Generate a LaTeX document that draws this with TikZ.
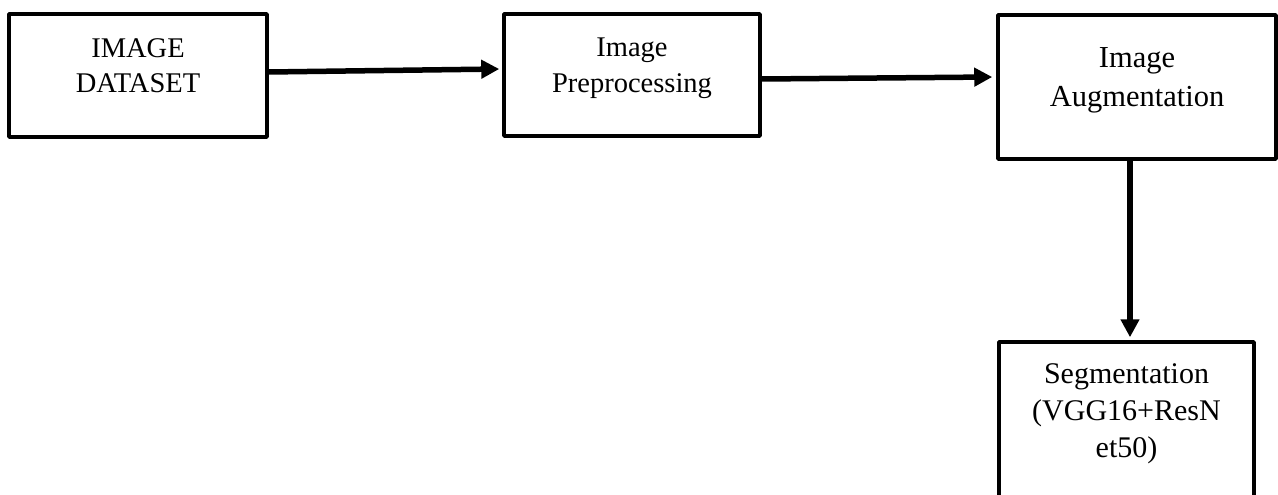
\documentclass[tikz,border=0pt]{standalone}
\usepackage{fontspec}
\setmainfont{Liberation Serif}
\usetikzlibrary{arrows.meta,calc}
\tikzset{
  procbox/.style={draw=black, line width=3.5pt, line join=round, rectangle, align=center, inner sep=0pt},
  smalltext/.style={font=\fontsize{28.5}{35.5}\selectfont},
  bigtext/.style={font=\fontsize{30.5}{38.5}\selectfont},
  flow/.style={draw=black, line width=5.5pt, -{Triangle[length=18pt,width=18pt]}}
}
\begin{document}
\begin{tikzpicture}[x=1pt,y=-1pt]
\clip (0,0) rectangle (1278,495);
\fill[white] (0,0) rectangle (1278,495);
\node[procbox, smalltext, minimum width=258pt, minimum height=123pt, text depth=20pt] (b1) at (138,75.5) {IMAGE\\DATASET};
\node[procbox, smalltext, minimum width=256pt, minimum height=122pt, text depth=20pt] (b2) at (632,75) {Image\\Preprocessing};
\node[procbox, bigtext, minimum width=278pt, minimum height=144pt, text depth=20pt] (b3) at (1137,87) {Image\\Augmentation};
\node[procbox, font=\fontsize{30}{37}\selectfont, minimum width=255pt, minimum height=178pt, text depth=40pt] (b4) at (1126.5,431) {Segmentation\\(VGG16+ResN\\et50)};
\draw[flow] ($(b1.east)+(0,-3.5)$) -- ($(b2.west)+(-3,-6)$);
\draw[flow] ($(b2.east)+(0,4)$) -- ($(b3.west)+(-4,-10)$);
\draw[flow] ($(b3.south)+(-7,0)$) -- ($(b4.north)+(3.5,-3)$);
\end{tikzpicture}
\end{document}
